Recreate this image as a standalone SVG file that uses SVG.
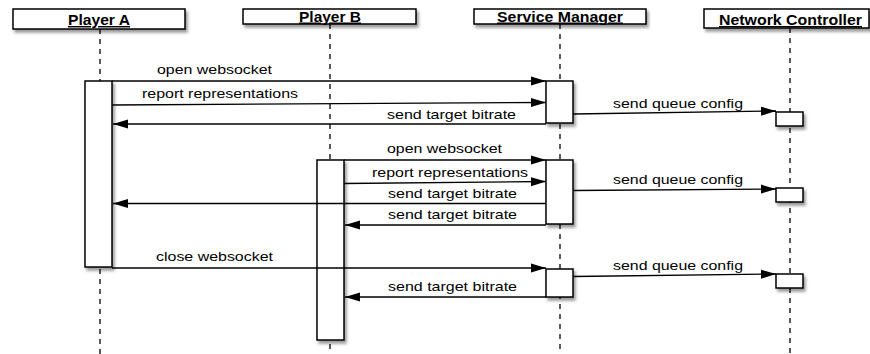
<svg xmlns="http://www.w3.org/2000/svg" width="870" height="354" viewBox="0 0 870 354">
  <defs>
    <filter id="shadow" x="-20%" y="-20%" width="140%" height="160%">
      <feDropShadow dx="2" dy="3" stdDeviation="1.8" flood-color="#000" flood-opacity="0.4"/>
    </filter>
    <marker id="arrow" markerUnits="userSpaceOnUse" markerWidth="15" markerHeight="10" refX="15" refY="5" orient="auto">
      <path d="M0,0.5 L15,5 L0,9.5 z" fill="#000"/>
    </marker>
    <style>
      .head { fill: #fff; stroke: #000; stroke-width: 1.5; filter: url(#shadow); }
      .act { fill: #fff; stroke: #000; stroke-width: 1.5; filter: url(#shadow); }
      .life { stroke: #000; stroke-width: 1.3; stroke-dasharray: 5 5; fill: none; }
      .title { font-family: "Liberation Sans", Arial, sans-serif; font-weight: bold; font-size: 14.5px; text-decoration: underline; fill: #000; }
      .msg { stroke: #000; stroke-width: 1.3; fill: none; marker-end: url(#arrow); }
      .label { font-family: "Liberation Sans", Arial, sans-serif; font-size: 13.5px; fill: #000; }
    </style>
  </defs>
  <rect width="870" height="354" fill="#fff"/>

  <g id="player-a">
    <line class="life" x1="100" y1="29" x2="100" y2="354"/>
    <rect class="head" x="13" y="9" width="172" height="20"/>
    <text class="title" x="68" y="25" textLength="62" lengthAdjust="spacingAndGlyphs">Player A</text>
    <rect class="act" x="85" y="81" width="27" height="186"/>
  </g>

  <g id="player-b">
    <line class="life" x1="330" y1="24" x2="330" y2="354"/>
    <rect class="head" x="243" y="9" width="173" height="15"/>
    <text class="title" x="299" y="21.5" textLength="62" lengthAdjust="spacingAndGlyphs">Player B</text>
    <rect class="act" x="317" y="160" width="27" height="180"/>
  </g>

  <g id="service-manager">
    <line class="life" x1="560" y1="24" x2="560" y2="354"/>
    <rect class="head" x="474" y="9" width="172" height="15"/>
    <text class="title" x="497" y="21.5" textLength="126" lengthAdjust="spacingAndGlyphs">Service Manager</text>
    <rect class="act" x="546" y="81" width="27" height="42"/>
    <rect class="act" x="546" y="160" width="27" height="64"/>
    <rect class="act" x="546" y="269" width="27" height="28"/>
  </g>

  <g id="network-controller">
    <line class="life" x1="790" y1="28" x2="790" y2="354"/>
    <rect class="head" x="704" y="9" width="165" height="19"/>
    <text class="title" x="719" y="25" textLength="143" lengthAdjust="spacingAndGlyphs">Network Controller</text>
    <rect class="act" x="776" y="112" width="27" height="14"/>
    <rect class="act" x="776" y="188" width="27" height="14"/>
    <rect class="act" x="776" y="274" width="27" height="14"/>
  </g>

  <g id="connectors">
    <line class="msg" x1="112" y1="81" x2="546" y2="81"/>
    <line class="msg" x1="112" y1="105" x2="546" y2="102.5"/>
    <line class="msg" x1="546" y1="124" x2="113" y2="124"/>
    <line class="msg" x1="573" y1="114" x2="776" y2="111"/>

    <line class="msg" x1="344" y1="160" x2="546" y2="160"/>
    <line class="msg" x1="344" y1="183.5" x2="546" y2="181.5"/>
    <line class="msg" x1="546" y1="203.5" x2="113" y2="203.5"/>
    <line class="msg" x1="546" y1="225" x2="345" y2="225"/>
    <line class="msg" x1="573" y1="190.5" x2="776" y2="189"/>

    <line class="msg" x1="112" y1="268" x2="546" y2="268"/>
    <line class="msg" x1="546" y1="297" x2="345" y2="297"/>
    <line class="msg" x1="573" y1="276.5" x2="776" y2="274"/>
  </g>

  <g id="labels">
    <text class="label" x="157" y="74" textLength="115" lengthAdjust="spacingAndGlyphs">open websocket</text>
    <text class="label" x="142" y="98" textLength="156" lengthAdjust="spacingAndGlyphs">report representations</text>
    <text class="label" x="387" y="118.5" textLength="129" lengthAdjust="spacingAndGlyphs">send target bitrate</text>
    <text class="label" x="613" y="108" textLength="130" lengthAdjust="spacingAndGlyphs">send queue config</text>

    <text class="label" x="387" y="153" textLength="115" lengthAdjust="spacingAndGlyphs">open websocket</text>
    <text class="label" x="372" y="177" textLength="156" lengthAdjust="spacingAndGlyphs">report representations</text>
    <text class="label" x="388" y="197.5" textLength="129" lengthAdjust="spacingAndGlyphs">send target bitrate</text>
    <text class="label" x="388" y="219" textLength="129" lengthAdjust="spacingAndGlyphs">send target bitrate</text>
    <text class="label" x="613" y="184" textLength="130" lengthAdjust="spacingAndGlyphs">send queue config</text>

    <text class="label" x="156" y="261" textLength="117" lengthAdjust="spacingAndGlyphs">close websocket</text>
    <text class="label" x="388" y="291" textLength="129" lengthAdjust="spacingAndGlyphs">send target bitrate</text>
    <text class="label" x="613" y="270" textLength="130" lengthAdjust="spacingAndGlyphs">send queue config</text>
  </g>
</svg>
